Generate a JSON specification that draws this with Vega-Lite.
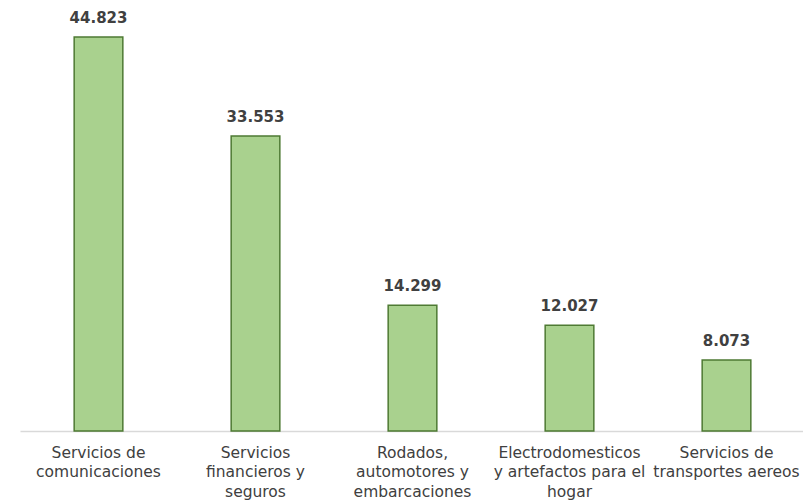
{
  "$schema": "https://vega.github.io/schema/vega-lite/v6.json",
  "autosize": "none",
  "width": 785,
  "height": 421,
  "padding": {"left": 20, "top": 10, "right": 0, "bottom": 71},
  "background": "white",
  "config": {"view": {"stroke": null}, "font": "DejaVu Sans"},
  "data": {
    "values": [
      {"categoria": "Servicios de comunicaciones", "valor": 44823, "texto": "44.823"},
      {"categoria": "Servicios financieros y seguros", "valor": 33553, "texto": "33.553"},
      {"categoria": "Rodados, automotores y embarcaciones", "valor": 14299, "texto": "14.299"},
      {"categoria": "Electrodomesticos y artefactos para el hogar", "valor": 12027, "texto": "12.027"},
      {"categoria": "Servicios de transportes aereos", "valor": 8073, "texto": "8.073"}
    ]
  },
  "encoding": {
    "x": {
      "field": "categoria",
      "type": "nominal",
      "sort": null,
      "scale": {"paddingInner": 0.69, "paddingOuter": 0.345},
      "axis": {
        "title": null,
        "ticks": false,
        "domainColor": "#d9d9d9",
        "domainWidth": 1.5,
        "labelAngle": 0,
        "labelFont": "DejaVu Sans",
        "labelFontSize": 15.5,
        "labelColor": "#404040",
        "labelPadding": 14,
        "labelLineHeight": 19.5,
        "labelExpr": "split(datum.value == 'Servicios de comunicaciones' ? 'Servicios de|comunicaciones' : datum.value == 'Servicios financieros y seguros' ? 'Servicios|financieros y|seguros' : datum.value == 'Rodados, automotores y embarcaciones' ? 'Rodados,|automotores y|embarcaciones' : datum.value == 'Electrodomesticos y artefactos para el hogar' ? 'Electrodomesticos|y artefactos para el|hogar' : 'Servicios de|transportes aereos', '|')"
      }
    },
    "y": {
      "field": "valor",
      "type": "quantitative",
      "scale": {"domain": [0, 47900]},
      "axis": null
    }
  },
  "layer": [
    {
      "mark": {"type": "bar", "color": "#a9d18e", "stroke": "#4e7a33", "strokeWidth": 1.5}
    },
    {
      "mark": {"type": "text", "dy": -19, "font": "DejaVu Sans", "fontSize": 15, "fontWeight": "bold", "color": "#404040"},
      "encoding": {"text": {"field": "texto"}}
    }
  ]
}
